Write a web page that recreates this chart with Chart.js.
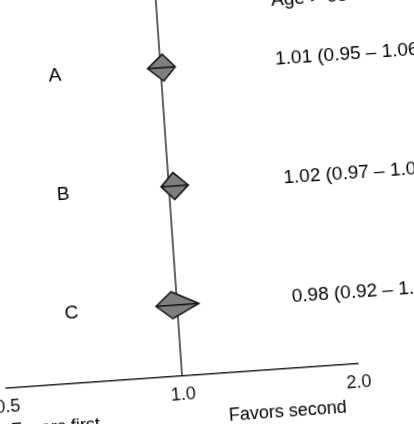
<!DOCTYPE html>
<html>
<head>
<meta charset="utf-8">
<script src="https://cdn.jsdelivr.net/npm/chart.js@4"></script>
<style>
  html, body { margin: 0; padding: 0; background: #fff; overflow: hidden; }
  body { width: 414px; height: 424px; position: relative; }
  /* the printed figure is slightly tilted */
  #wrap { position: absolute; left: -20px; top: -30px; width: 480px; height: 490px;
          transform-origin: 202px 405px; transform: rotate(-4deg); }
</style>
</head>
<body>
<div id="wrap"><canvas id="forest" width="480" height="490"></canvas></div>
<script>
// --- data ---
const groups = ['A', 'B', 'C'];
const estimates = [1.01, 1.02, 0.98];
const ciLower = [0.95, 0.97, 0.92];
const ciUpper = [1.06, 1.08, 1.09];
const xTicks = [0.5, 1.0, 2.0];
const headerLabel = 'Age > 65';
const favorLabels = ['Favors first', 'Favors second'];
const favorAt = [0.6, 1.5];

const FONT = "'Liberation Sans', Arial, sans-serif";
Chart.defaults.font.family = FONT;

const ciText = i => `${estimates[i].toFixed(2)} (${ciLower[i].toFixed(2)} – ${ciUpper[i].toFixed(2)})`;

// --- forest plot drawing (reference line, diamonds, texts) ---
const forestPlugin = {
  id: 'forest',
  beforeDatasetsDraw(chart) {
    const { ctx, chartArea, scales: { x } } = chart;
    const px = x.getPixelForValue(1);
    ctx.save();
    ctx.strokeStyle = '#222';
    ctx.lineWidth = 1.4;
    ctx.beginPath();
    ctx.moveTo(px, chartArea.bottom);
    ctx.lineTo(px, 0);
    ctx.stroke();
    ctx.restore();
  },
  afterDatasetsDraw(chart) {
    const { ctx, chartArea, scales: { x, y } } = chart;
    const half = 13.5;
    ctx.save();
    ctx.textBaseline = 'middle';
    groups.forEach((g, i) => {
      const cy = y.getPixelForValue(i);
      const xl = x.getPixelForValue(ciLower[i]);
      const xr = x.getPixelForValue(ciUpper[i]);
      const xm = x.getPixelForValue(estimates[i]);
      ctx.beginPath();
      ctx.moveTo(xl, cy);
      ctx.lineTo(xm, cy - half);
      ctx.lineTo(xr, cy);
      ctx.lineTo(xm, cy + half);
      ctx.closePath();
      ctx.fillStyle = '#7f7f7f';
      ctx.fill();
      ctx.lineWidth = 1.5;
      ctx.strokeStyle = '#111';
      ctx.stroke();
      ctx.beginPath();
      ctx.moveTo(xl, cy);
      ctx.lineTo(xr, cy);
      ctx.stroke();

      ctx.fillStyle = '#000';
      ctx.font = '19px ' + FONT;
      ctx.textAlign = 'center';
      ctx.fillText(g, 96, cy + 1);
      ctx.textAlign = 'left';
      ctx.fillText(ciText(i), 317, cy);
    });
    ctx.textAlign = 'left';
    ctx.fillText(headerLabel, 317, y.getPixelForValue(-0.5));
    ctx.font = '18px ' + FONT;
    ctx.textAlign = 'center';
    favorLabels.forEach((t, i) => {
      ctx.fillText(t, x.getPixelForValue(favorAt[i]), chartArea.bottom + 43);
    });
    ctx.restore();
  }
};

new Chart(document.getElementById('forest'), {
  type: 'scatter',
  data: {
    datasets: [{
      data: groups.map((g, i) => ({ x: estimates[i], y: i })),
      pointRadius: 0,
      pointHoverRadius: 0
    }]
  },
  options: {
    responsive: false,
    animation: false,
    devicePixelRatio: 1,
    layout: { padding: { left: 26, right: 102, top: 2, bottom: 54.4 } },
    plugins: { legend: { display: false }, tooltip: { enabled: false } },
    scales: {
      x: {
        type: 'logarithmic',
        min: 0.5,
        max: 2,
        afterBuildTicks: scale => { scale.ticks = xTicks.map(v => ({ value: v })); },
        ticks: {
          autoSkip: false,
          maxRotation: 0,
          padding: 0,
          color: '#111',
          font: { size: 18 },
          callback: v => Number(v).toFixed(1)
        },
        grid: { display: false },
        border: { display: true, color: '#222', width: 1.4 }
      },
      y: {
        type: 'linear',
        display: false,
        reverse: true,
        min: -0.8,
        max: 2.6
      }
    }
  },
  plugins: [forestPlugin]
});
</script>
</body>
</html>
